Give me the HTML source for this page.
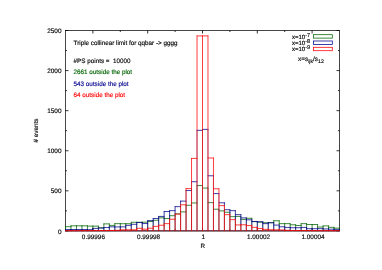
<!DOCTYPE html>
<html><head><meta charset="utf-8"><title>plot</title>
<style>html,body{margin:0;padding:0;background:#fff;overflow:hidden}svg{display:block;text-rendering:geometricPrecision}text{stroke:#000;stroke-width:.14px}text.g{stroke:#006400}text.b{stroke:#00008b}text.r{stroke:#f00}</style>
</head><body><div style="will-change:transform;width:382px;height:270px">
<svg width="382" height="270" viewBox="0 0 382 270" font-family="Liberation Sans, sans-serif" font-size="6.3">
<rect width="382" height="270" fill="#fff"/>
<rect x="65.5" y="30.5" width="274.0" height="200.50" fill="none" stroke="#000" stroke-width="0.72"/>
<path d="M65.5 30.50h3.0M339.5 30.50h-3.0M65.5 50.54h1.5M339.5 50.54h-1.5M65.5 70.58h3.0M339.5 70.58h-3.0M65.5 90.62h1.5M339.5 90.62h-1.5M65.5 110.66h3.0M339.5 110.66h-3.0M65.5 130.70h1.5M339.5 130.70h-1.5M65.5 150.74h3.0M339.5 150.74h-3.0M65.5 170.78h1.5M339.5 170.78h-1.5M65.5 190.82h3.0M339.5 190.82h-3.0M65.5 210.86h1.5M339.5 210.86h-1.5M65.5 230.90h3.0M339.5 230.90h-3.0M92.90 230.9v-3.0M92.90 30.5v3.0M120.30 230.9v-1.5M120.30 30.5v1.5M147.70 230.9v-3.0M147.70 30.5v3.0M175.10 230.9v-1.5M175.10 30.5v1.5M202.50 230.9v-3.0M202.50 30.5v3.0M229.90 230.9v-1.5M229.90 30.5v1.5M257.30 230.9v-3.0M257.30 30.5v3.0M284.70 230.9v-1.5M284.70 30.5v1.5M312.10 230.9v-3.0M312.10 30.5v3.0" stroke="#000" stroke-width="0.8" fill="none"/>
<text x="61.5" y="32.75" text-anchor="end" font-size="6.45">2500</text>
<text x="61.5" y="72.83" text-anchor="end" font-size="6.45">2000</text>
<text x="61.5" y="112.91" text-anchor="end" font-size="6.45">1500</text>
<text x="61.5" y="152.99" text-anchor="end" font-size="6.45">1000</text>
<text x="61.5" y="193.07" text-anchor="end" font-size="6.45">500</text>
<text x="61.5" y="233.55" text-anchor="end" font-size="6.45">0</text>
<text x="93.4" y="239.3" text-anchor="middle" font-size="6.4">0.99996</text>
<text x="148.5" y="239.3" text-anchor="middle" font-size="6.4">0.99998</text>
<text x="203.3" y="239.3" text-anchor="middle" font-size="6.4">1</text>
<text x="258.5" y="239.3" text-anchor="middle" font-size="6.4">1.00002</text>
<text x="313.0" y="239.3" text-anchor="middle" font-size="6.4">1.00004</text>
<text x="202.8" y="248.3" text-anchor="middle">R</text>
<text transform="translate(37.6 130.6) rotate(-90)" text-anchor="middle"># events</text>
<path d="M65.50 230.70V229.50M70.98 230.70V229.50M76.46 230.70V229.50M81.94 230.70V229.50M87.42 230.70V229.50M92.90 230.70V228.38M98.38 230.70V228.05M103.86 230.70V227.49M109.34 230.70V226.85M114.82 230.70V226.85M120.30 230.70V226.85M125.78 230.70V225.33M131.26 230.70V224.29M136.74 230.70V222.52M142.22 230.70V222.52M147.70 230.70V221.10M153.18 230.70V219.90M158.66 230.70V217.49M164.14 230.70V217.49M169.62 230.70V215.33M175.10 230.70V213.49M180.58 230.70V211.48M186.06 230.70V204.91M191.54 230.70V202.58M197.02 230.70V185.19M202.50 230.70V185.19M207.98 230.70V187.67M213.46 230.70V202.26M218.94 230.70V208.84M224.42 230.70V210.52M229.90 230.70V211.88M235.38 230.70V216.05M240.86 230.70V216.05M246.34 230.70V217.90M251.82 230.70V219.80M257.30 230.70V221.26M262.78 230.70V221.82M268.26 230.70V222.30M273.74 230.70V222.68M279.22 230.70V225.09M284.70 230.70V226.77M290.18 230.70V227.41M295.66 230.70V227.73M301.14 230.70V227.41M306.62 230.70V227.41M312.10 230.70V228.70M317.58 230.70V228.62M323.06 230.70V228.62M328.54 230.70V228.94M334.02 230.70V229.18M339.50 230.70V229.42M65.12 230.70H339.88" fill="none" stroke="#006400" stroke-width="0.76" stroke-opacity="0.55"/>
<path d="M65.50 229.50V226.31M70.98 229.50V225.43M76.46 229.50V225.43M81.94 229.50V225.43M87.42 229.50V225.43M92.90 228.38V225.75M98.38 228.05V225.75M103.86 227.49V223.51M109.34 226.85V223.51M114.82 226.85V223.27M120.30 226.85V223.27M125.78 225.33V223.35M131.26 224.29V221.90M136.74 222.52V221.90M142.22 222.52V221.82M251.82 219.80V217.90M273.74 222.68V220.38M279.22 225.09V220.38M284.70 226.77V223.27M290.18 227.41V223.27M295.66 227.73V224.39M301.14 227.41V223.27M306.62 227.41V223.27M312.10 228.70V224.15M317.58 228.62V224.15M323.06 228.62V225.51M328.54 228.94V225.51M334.02 229.18V226.95M339.50 229.42V227.75M65.12 226.69h6.24M70.60 225.81h6.24M76.08 225.81h6.24M81.56 225.81h6.24M87.04 226.13h6.24M92.52 226.13h6.24M98.00 227.81h6.24M103.48 223.89h6.24M108.96 225.41h6.24M114.44 223.65h6.24M119.92 223.73h6.24M125.40 223.73h6.24M130.88 222.28h6.24M136.36 222.28h6.24M141.84 222.20h6.24M147.32 221.48h6.24M152.80 220.28h6.24M158.28 217.87h6.24M163.76 218.52h6.24M169.24 215.71h6.24M174.72 213.87h6.24M180.20 211.86h6.24M185.68 205.29h6.24M191.16 202.96h6.24M196.64 185.57h6.24M202.12 188.05h6.24M207.60 202.64h6.24M213.08 209.22h6.24M218.56 210.90h6.24M224.04 212.26h6.24M229.52 216.67h6.24M235.00 216.43h6.24M240.48 219.40h6.24M245.96 218.28h6.24M251.44 221.64h6.24M256.92 222.20h6.24M262.40 222.68h6.24M267.88 222.76h6.24M273.36 220.76h6.24M278.84 223.65h6.24M284.32 223.65h6.24M289.80 224.77h6.24M295.28 225.49h6.24M300.76 223.65h6.24M306.24 224.53h6.24M311.72 224.53h6.24M317.20 227.01h6.24M322.68 225.89h6.24M328.16 227.33h6.24M333.64 228.13h6.24" fill="none" stroke="#006400" stroke-width="0.76"/>
<path d="M92.90 230.70V230.62M98.38 230.70V230.62M103.86 230.70V230.54M109.34 230.70V230.46M114.82 230.70V230.30M120.30 230.70V229.82M125.78 230.70V229.82M131.26 230.70V229.82M136.74 230.70V228.30M142.22 230.70V228.30M147.70 230.70V228.22M153.18 230.70V226.37M158.66 230.70V225.25M164.14 230.70V223.65M169.62 230.70V219.24M175.10 230.70V214.11M180.58 230.70V204.81M186.06 230.70V190.16M191.54 230.70V181.34M197.02 230.70V129.96M202.50 230.70V129.00M207.98 230.70V129.00M213.46 230.70V175.41M218.94 230.70V193.21M224.42 230.70V205.61M229.90 230.70V214.67M235.38 230.70V219.64M240.86 230.70V224.77M246.34 230.70V224.77M251.82 230.70V225.57M257.30 230.70V227.33M262.78 230.70V228.54M268.26 230.70V229.34M273.74 230.70V229.74M279.22 230.70V229.82M284.70 230.70V229.98M290.18 230.70V230.30M295.66 230.70V230.46M301.14 230.70V230.54M306.62 230.70V230.62M312.10 230.70V230.62M65.12 230.70H339.88" fill="none" stroke="#00008b" stroke-width="0.76" stroke-opacity="0.55"/>
<path d="M65.50 231.08V229.12M70.98 231.08V229.12M76.46 231.08V229.12M81.94 231.08V229.12M87.42 231.08V229.12M92.90 230.62V228.00M98.38 230.62V227.67M103.86 230.54V227.11M109.34 230.46V226.47M114.82 230.30V226.47M120.30 229.82V226.47M125.78 229.82V224.95M131.26 229.82V223.91M136.74 228.30V222.14M142.22 228.30V222.14M147.70 228.22V220.22M153.18 226.37V218.14M158.66 225.25V216.05M164.14 223.65V211.16M169.62 219.24V210.28M175.10 214.11V206.27M180.58 204.81V200.74M224.42 205.61V202.42M229.90 214.67V209.32M235.38 219.64V210.28M240.86 224.77V214.29M246.34 224.77V217.49M251.82 225.57V219.42M257.30 227.33V221.10M262.78 228.54V221.34M268.26 229.34V222.30M273.74 229.74V222.30M279.22 229.82V224.71M284.70 229.98V226.39M290.18 230.30V227.03M295.66 230.46V227.35M301.14 230.54V227.03M306.62 230.62V227.03M312.10 230.62V228.32M317.58 231.08V228.24M323.06 231.08V228.24M328.54 231.08V228.56M334.02 231.08V228.80M339.50 231.08V229.04M65.12 229.50h6.24M70.60 229.50h6.24M76.08 229.50h6.24M81.56 229.50h6.24M87.04 229.66h6.24M92.52 228.38h6.24M98.00 228.05h6.24M103.48 227.49h6.24M108.96 226.85h6.24M114.44 226.93h6.24M119.92 226.85h6.24M125.40 225.33h6.24M130.88 224.29h6.24M136.36 222.52h6.24M141.84 223.57h6.24M147.32 220.60h6.24M152.80 218.52h6.24M158.28 216.43h6.24M163.76 211.54h6.24M169.24 210.66h6.24M174.72 206.65h6.24M180.20 201.12h6.24M185.68 190.54h6.24M191.16 181.72h6.24M196.64 130.34h6.24M202.12 129.38h6.24M207.60 175.79h6.24M213.08 193.59h6.24M218.56 202.80h6.24M224.04 209.70h6.24M229.52 210.66h6.24M235.00 214.67h6.24M240.48 217.87h6.24M245.96 219.80h6.24M251.44 221.48h6.24M256.92 221.72h6.24M262.40 223.65h6.24M267.88 222.68h6.24M273.36 225.09h6.24M278.84 226.77h6.24M284.32 227.41h6.24M289.80 227.73h6.24M295.28 227.73h6.24M300.76 227.41h6.24M306.24 228.70h6.24M311.72 228.70h6.24M317.20 228.62h6.24M322.68 228.94h6.24M328.16 229.18h6.24M333.64 229.42h6.24" fill="none" stroke="#00008b" stroke-width="0.76"/>
<path d="M65.12 230.70H339.88" fill="none" stroke="#ff0000" stroke-width="0.76" stroke-opacity="0.55"/>
<path d="M92.90 231.08V230.24M98.38 231.08V230.24M103.86 231.08V230.16M109.34 231.08V230.08M114.82 231.08V229.92M120.30 231.08V229.44M125.78 231.08V229.44M131.26 231.08V229.44M136.74 231.08V227.92M142.22 231.08V227.92M147.70 231.08V227.84M153.18 231.08V225.99M158.66 231.08V224.87M164.14 231.08V223.27M169.62 231.08V218.86M175.10 231.08V213.73M180.58 231.08V204.43M186.06 231.08V188.24M191.54 231.08V158.02M197.02 231.08V35.53M202.50 231.08V35.53M207.98 231.08V35.53M213.46 231.08V157.61M218.94 231.08V188.40M224.42 231.08V205.23M229.90 231.08V214.29M235.38 231.08V219.26M240.86 231.08V224.39M246.34 231.08V224.39M251.82 231.08V225.19M257.30 231.08V226.95M262.78 231.08V228.16M268.26 231.08V228.96M273.74 231.08V229.36M279.22 231.08V229.44M284.70 231.08V229.60M290.18 231.08V229.92M295.66 231.08V230.08M301.14 231.08V230.16M306.62 231.08V230.24M312.10 231.08V230.24M65.12 230.70h6.24M70.60 230.70h6.24M76.08 230.70h6.24M81.56 230.70h6.24M87.04 230.70h6.24M92.52 230.62h6.24M98.00 230.62h6.24M103.48 230.54h6.24M108.96 230.46h6.24M114.44 230.30h6.24M119.92 229.82h6.24M125.40 229.82h6.24M130.88 229.82h6.24M136.36 228.30h6.24M141.84 229.18h6.24M147.32 228.22h6.24M152.80 226.37h6.24M158.28 225.25h6.24M163.76 223.65h6.24M169.24 219.24h6.24M174.72 214.11h6.24M180.20 204.81h6.24M185.68 188.62h6.24M191.16 158.40h6.24M196.64 35.91h6.24M202.12 35.91h6.24M207.60 157.99h6.24M213.08 188.78h6.24M218.56 205.61h6.24M224.04 214.67h6.24M229.52 219.64h6.24M235.00 224.93h6.24M240.48 224.77h6.24M245.96 225.57h6.24M251.44 227.33h6.24M256.92 228.54h6.24M262.40 229.34h6.24M267.88 229.74h6.24M273.36 229.82h6.24M278.84 229.98h6.24M284.32 230.30h6.24M289.80 230.46h6.24M295.28 230.54h6.24M300.76 230.62h6.24M306.24 230.62h6.24M311.72 230.70h6.24M317.20 230.70h6.24M322.68 230.70h6.24M328.16 230.70h6.24M333.64 230.70h6.24" fill="none" stroke="#ff0000" stroke-width="0.76"/>
<text x="73.6" y="45.1">Triple collinear limit for qqbar -&gt; gggg</text>
<text x="73.6" y="62.9" xml:space="preserve">#PS points =  10000</text>
<text x="73.6" y="74.0" class="g" fill="#006400">2661 outside the plot</text>
<text x="73.6" y="85.6" class="b" fill="#00008b">543 outside the plot</text>
<text x="73.6" y="96.9" class="r" fill="#ff0000">64 outside the plot</text>
<text x="292" y="38.75" font-size="6">x=10<tspan font-size="5.6" dy="-2.1">-7</tspan></text>
<rect x="313.4" y="34.70" width="18.9" height="3.4" fill="none" stroke="#006400" stroke-width="0.76"/>
<text x="292" y="45.05" font-size="6">x=10<tspan font-size="5.6" dy="-2.1">-8</tspan></text>
<rect x="313.4" y="41.00" width="18.9" height="3.4" fill="none" stroke="#00008b" stroke-width="0.76"/>
<text x="292" y="51.35" font-size="6">x=10<tspan font-size="5.6" dy="-2.1">-9</tspan></text>
<rect x="313.4" y="47.30" width="18.9" height="3.4" fill="none" stroke="#ff0000" stroke-width="0.76"/>
<text x="298" y="60.5" font-size="6.4">x=s<tspan font-size="5.2" dy="2.6">ijk</tspan><tspan dy="-2.6">/s</tspan><tspan font-size="5.2" dy="2.4">12</tspan></text>
</svg>
</div></body></html>
